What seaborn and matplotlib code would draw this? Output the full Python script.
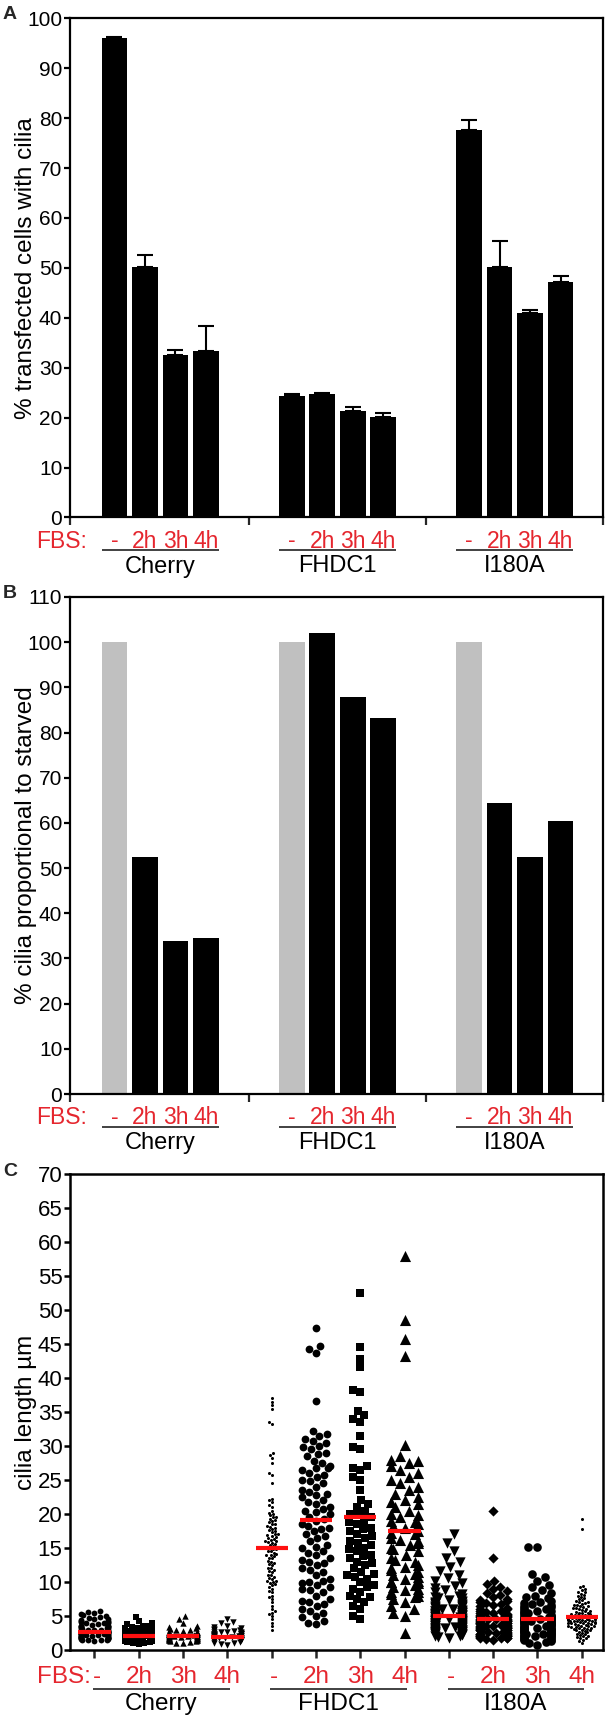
import numpy as np
import pandas as pd
import matplotlib
matplotlib.use("Agg")
import matplotlib.pyplot as plt
import matplotlib.transforms as mtransforms
import seaborn as sns

constructs = ["Cherry", "FHDC1", "I180A"]
fbs = ["-", "2h", "3h", "4h"]

# panel A: % transfected cells with cilia (mean and upper error)
pct_cilia = [96.0, 50.1, 32.6, 33.4,
             24.3, 24.7, 21.3, 20.1,
             77.6, 50.1, 40.9, 47.2]
pct_cilia_err = [0.3, 2.4, 0.9, 5.0,
                 0.4, 0.3, 0.9, 0.8,
                 2.0, 5.3, 0.7, 1.1]

# panel B: % cilia relative to starved
pct_rel = [100, 52.4, 33.9, 34.5,
           100, 102.0, 87.8, 83.2,
           100, 64.3, 52.4, 60.5]

# panel C: cilia lengths (um), one list per condition
len_cherry_0 = [5.8, 5.6, 5.5, 5.3, 5.1, 5.0, 4.8, 4.7, 4.6, 4.5, 4.4, 4.3, 4.2, 4.1, 4.0, 3.9,
                3.9, 3.8, 3.7, 3.6, 3.6, 3.5, 3.4, 3.4, 3.3, 3.2, 3.2, 3.1, 3.0, 3.0, 2.9, 2.9,
                2.8, 2.8, 2.7, 2.7, 2.6, 2.6, 2.5, 2.5, 2.4, 2.4, 2.3, 2.3, 2.2, 2.2, 2.1, 2.1,
                2.0, 2.0, 1.9, 1.9, 1.8, 1.8, 1.7, 1.7, 1.6, 1.6, 1.5, 1.5, 1.4, 1.4, 1.3, 2.6,
                2.2, 1.9, 3.0, 3.5, 4.1, 2.4, 1.7]
len_cherry_2 = [4.9, 4.2, 3.9, 3.8, 3.6, 3.5, 3.4, 3.3, 3.2, 3.1, 3.0, 2.9, 2.8, 2.8, 2.7, 2.6,
                2.6, 2.5, 2.5, 2.4, 2.4, 2.3, 2.3, 2.2, 2.2, 2.1, 2.1, 2.0, 2.0, 1.9, 1.9, 1.8,
                1.8, 1.7, 1.7, 1.6, 1.6, 1.5, 1.5, 1.4, 1.4, 1.3, 1.3, 1.2, 1.1, 1.0, 0.9, 2.2,
                1.8, 1.5, 2.6, 3.0, 1.2, 2.0, 2.4]
len_cherry_3 = [5.0, 4.6, 3.9, 3.6, 3.4, 3.3, 3.1, 3.0, 2.9, 2.8, 2.7, 2.7, 2.6, 2.5, 2.5, 2.4,
                2.4, 2.3, 2.3, 2.2, 2.2, 2.1, 2.1, 2.0, 2.0, 1.9, 1.9, 1.8, 1.8, 1.7, 1.7, 1.6,
                1.6, 1.5, 1.5, 1.4, 1.4, 1.3, 1.2, 1.1, 1.0, 2.3, 1.9, 1.6, 2.6, 1.3, 2.0]
len_cherry_4 = [4.6, 4.1, 3.9, 3.6, 3.4, 3.2, 3.1, 3.0, 2.9, 2.8, 2.7, 2.6, 2.6, 2.5, 2.4, 2.4,
                2.3, 2.3, 2.2, 2.2, 2.1, 2.1, 2.0, 2.0, 1.9, 1.9, 1.8, 1.8, 1.7, 1.7, 1.6, 1.6,
                1.5, 1.5, 1.4, 1.4, 1.3, 1.2, 1.1, 1.0, 0.9, 0.8, 2.0, 1.7, 2.3, 1.4, 2.6]
len_fhdc1_0 = [37.0, 36.5, 36.0, 35.5, 33.5, 33.2, 29.0, 28.7, 28.3, 27.5, 26.0, 25.8, 24.5, 22.2,
               22.0, 21.7, 21.3, 21.0, 20.5, 20.0, 19.8, 19.5, 19.3, 19.0, 18.8, 18.5, 18.2, 18.0,
               17.5, 17.3, 17.0, 16.8, 16.5, 16.3, 16.0, 15.8, 15.5, 15.3, 15.0, 14.8, 14.5, 14.3,
               14.0, 13.5, 13.0, 12.5, 12.0, 11.5, 11.0, 10.8, 10.5, 10.2, 10.0, 9.8, 9.5, 9.3,
               9.0, 8.5, 8.0, 7.5, 7.0, 6.5, 6.0, 5.7, 5.3, 5.0, 4.5, 4.0, 3.5, 3.0, 15.2, 16.2,
               17.8, 13.8, 12.8, 11.8, 9.7, 8.7, 7.8, 5.5, 19.6, 18.6, 17.6, 16.6, 15.6, 14.6,
               13.6, 12.6, 11.6, 10.6, 19.1, 18.1, 17.1, 16.1, 15.1, 14.1, 13.1, 12.1, 11.1,
               10.1, 20.2, 16.9, 15.9, 14.9, 13.9]
len_fhdc1_2 = [47.3, 44.7, 44.2, 43.7, 36.6, 32.2, 31.5, 31.0, 30.5, 30.0, 29.5, 29.0, 28.5, 27.5,
               27.0, 26.8, 26.5, 26.0, 25.5, 25.0, 24.5, 24.0, 23.5, 23.0, 22.5, 22.0, 21.5, 21.0,
               20.5, 20.0, 19.5, 19.0, 18.5, 18.0, 17.5, 17.0, 16.5, 16.0, 15.5, 15.0, 14.5, 14.0,
               13.5, 13.0, 12.5, 12.0, 11.5, 11.0, 10.5, 10.0, 9.5, 9.0, 8.5, 8.0, 7.5, 7.0, 6.5,
               6.0, 5.5, 5.0, 4.2, 3.8, 26.7, 24.8, 23.3, 21.8, 20.3, 19.3, 18.3, 16.8, 15.2, 14.2,
               13.2, 11.8, 10.2, 9.8, 8.8, 7.2, 31.8, 30.8, 29.8, 28.8, 27.8, 25.8, 22.8, 20.8,
               17.8, 12.8, 9.2, 6.8, 5.8, 4.8, 4.0]
len_fhdc1_3 = [52.5, 44.5, 42.8, 41.6, 38.3, 38.0, 35.2, 34.5, 34.0, 33.5, 31.5, 29.8, 29.5, 27.0,
               26.8, 26.5, 25.5, 25.0, 23.5, 22.0, 21.5, 21.0, 20.5, 20.0, 19.5, 19.0, 18.5, 18.0,
               17.5, 17.0, 16.5, 16.0, 15.5, 15.0, 14.5, 14.0, 13.5, 13.0, 12.5, 12.0, 11.5, 11.0,
               10.5, 10.0, 9.5, 9.0, 8.5, 8.0, 7.5, 7.0, 6.5, 6.0, 5.0, 4.5, 19.8, 18.8, 17.8,
               16.8, 15.8, 14.8, 13.8, 12.8, 11.2, 10.8, 9.2, 7.8]
len_fhdc1_4 = [58.0, 48.5, 45.8, 43.2, 30.2, 28.5, 28.0, 27.5, 27.0, 26.0, 25.5, 25.0, 24.5, 24.0,
               23.5, 22.5, 22.0, 21.5, 21.0, 20.5, 20.0, 19.5, 19.0, 18.5, 18.0, 17.5, 17.0, 16.5,
               16.0, 15.5, 15.0, 14.5, 14.0, 13.5, 13.0, 12.5, 12.0, 11.5, 11.0, 10.5, 10.0, 9.5,
               9.0, 8.5, 8.0, 7.5, 7.0, 6.5, 5.5, 5.0, 2.5, 18.2, 17.2, 16.2, 14.8, 13.2, 11.2,
               10.8, 10.2, 9.2, 8.2, 27.8, 26.5, 23.0, 21.8, 19.8, 18.8, 15.8, 12.2, 11.8, 10.0,
               9.8, 8.8, 8.5, 7.8, 6.0]
len_i180a_0 = [17.0, 15.8, 14.6, 13.6, 12.9, 12.2, 11.6, 11.0, 10.6, 10.2, 9.8, 9.4, 9.1, 8.8,
               8.5, 8.3, 8.0, 7.8, 7.6, 7.4, 7.2, 7.0, 6.9, 6.8, 6.6, 6.5, 6.4, 6.3, 6.2, 6.1,
               6.0, 5.9, 5.8, 5.7, 5.6, 5.5, 5.5, 5.4, 5.3, 5.2, 5.2, 5.1, 5.0, 5.0, 4.9, 4.8,
               4.8, 4.7, 4.6, 4.6, 4.5, 4.4, 4.4, 4.3, 4.2, 4.2, 4.1, 4.0, 4.0, 3.9, 3.8, 3.8,
               3.7, 3.6, 3.6, 3.5, 3.4, 3.4, 3.3, 3.2, 3.2, 3.1, 3.0, 3.0, 2.9, 2.8, 2.8, 2.7,
               2.6, 2.6, 2.5, 2.4, 2.3, 2.2, 2.1, 2.0, 1.9, 1.8, 6.7, 6.3, 5.8, 5.3, 4.7, 4.3,
               3.7, 3.3, 2.7, 2.4, 7.1, 7.7]
len_i180a_2 = [20.5, 13.5, 10.1, 9.7, 9.3, 9.0, 8.7, 8.4, 8.1, 7.8, 7.5, 7.2, 7.0, 6.8, 6.6, 6.4,
               6.2, 6.0, 5.8, 5.6, 5.5, 5.4, 5.2, 5.1, 5.0, 4.9, 4.8, 4.7, 4.6, 4.5, 4.4, 4.3,
               4.2, 4.1, 4.0, 3.9, 3.8, 3.7, 3.6, 3.5, 3.4, 3.3, 3.2, 3.1, 3.0, 2.9, 2.8, 2.7,
               2.6, 2.5, 2.4, 2.3, 2.2, 2.1, 2.0, 1.9, 1.8, 1.7, 1.6, 1.5, 4.5, 4.0, 3.5, 3.0,
               2.5, 2.0, 4.2, 3.7, 3.2, 2.7, 2.2, 1.8, 5.7, 5.3, 4.9, 4.4, 3.9, 3.4, 2.9, 2.4,
               6.1, 6.9, 7.4, 2.1, 1.7, 3.6, 4.6, 5.0]
len_i180a_3 = [15.2, 15.1, 11.2, 10.8, 10.2, 9.6, 9.2, 8.8, 8.4, 8.0, 7.6, 7.2, 7.0, 6.8, 6.6,
               6.4, 6.2, 6.0, 5.8, 5.6, 5.4, 5.2, 5.0, 4.9, 4.8, 4.7, 4.6, 4.5, 4.4, 4.3, 4.2,
               4.1, 4.0, 3.9, 3.8, 3.7, 3.6, 3.5, 3.4, 3.3, 3.2, 3.1, 3.0, 2.9, 2.8, 2.7, 2.6,
               2.5, 2.4, 2.3, 2.2, 2.1, 2.0, 1.9, 1.8, 1.6, 1.4, 1.2, 1.0, 0.8, 5.9, 5.5, 5.1,
               4.6, 4.2, 3.8, 3.3, 2.9, 2.5, 2.1, 1.7, 1.3, 6.3, 5.7, 4.4, 3.6, 2.7, 2.2, 4.8,
               3.9, 3.1, 2.4, 1.5, 6.9, 7.8]
len_i180a_4 = [19.3, 17.8, 9.4, 9.2, 9.0, 8.8, 8.6, 8.5, 8.3, 8.1, 8.0, 7.8, 7.6, 7.5, 7.3, 7.2,
               7.0, 6.9, 6.8, 6.6, 6.5, 6.4, 6.3, 6.2, 6.1, 6.0, 5.9, 5.8, 5.7, 5.6, 5.5, 5.4,
               5.3, 5.2, 5.1, 5.0, 5.0, 4.9, 4.8, 4.8, 4.7, 4.6, 4.6, 4.5, 4.4, 4.4, 4.3, 4.2,
               4.2, 4.1, 4.0, 4.0, 3.9, 3.8, 3.8, 3.7, 3.6, 3.6, 3.5, 3.4, 3.4, 3.3, 3.2, 3.1,
               3.0, 2.9, 2.8, 2.7, 2.6, 2.5, 2.4, 2.3, 2.2, 2.1, 2.0, 1.9, 1.8, 1.7, 1.5, 1.3,
               1.1, 4.1, 4.3, 4.5, 4.7, 3.9, 3.7, 3.5, 5.5, 5.3, 6.2, 6.6, 7.1, 2.9, 3.1, 3.3,
               4.0, 4.2, 4.4, 4.6, 4.8, 5.0, 5.2]
len_means = [2.7, 2.1, 2.0, 1.9,
             15.0, 19.1, 19.6, 17.5,
             5.0, 4.6, 4.6, 4.8]

RED = "#e5262e"
W, H = 608, 1719

sns.set_style("ticks")
plt.rcParams["font.family"] = ["Liberation Sans", "DejaVu Sans"]
plt.rcParams["ytick.labelsize"] = 15
plt.rcParams["xtick.labelsize"] = 15

fig = plt.figure(figsize=(W / 100, H / 100), dpi=100)


def add_axes_px(left, top, right, bottom):
    return fig.add_axes([left / W, 1 - bottom / H, (right - left) / W, (bottom - top) / H])


def style_axes(ax, lw, ysize):
    for s in ax.spines.values():
        s.set_visible(True)
        s.set_linewidth(lw)
        s.set_color("black")
    ax.tick_params(axis="y", direction="out", length=4, width=lw, labelsize=ysize,
                   pad=1.5, colors="black")
    ax.tick_params(axis="x", direction="out", length=5.5, width=lw, labelbottom=False)
    ax.set_xlabel("")
    ax.grid(False)


def text_below(ax, x, dy_px, s, ax_h, **kw):
    tr = mtransforms.blended_transform_factory(ax.transData, ax.transAxes)
    ax.text(x, -dy_px / ax_h, s, transform=tr, va="baseline", clip_on=False, **kw)


def line_below(ax, x0, x1, dy_px, ax_h):
    tr = mtransforms.blended_transform_factory(ax.transData, ax.transAxes)
    ax.plot([x0, x1], [-dy_px / ax_h] * 2, transform=tr, clip_on=False,
            color="#333333", lw=1.3, solid_capstyle="butt")


# ---- panels A and B: grouped bars ----
step = 5.81
bar_w = 0.84
xpos = [g * step + i for g in range(len(constructs)) for i in range(len(fbs))]
starved = [f == "-" for c in constructs for f in fbs]
bar_df = pd.DataFrame({"x": xpos, "pct": pct_cilia, "err": pct_cilia_err,
                       "rel": pct_rel, "starved": starved})

axA = add_axes_px(70, 18.3, 603, 517.5)
axB = add_axes_px(70, 597, 603, 1094)

sns.barplot(data=bar_df, x="x", y="pct", native_scale=True, color="black",
            width=bar_w, errorbar=None, linewidth=0, ax=axA)
axA.errorbar(bar_df["x"], bar_df["pct"], yerr=[np.zeros(len(bar_df)), bar_df["err"]],
             fmt="none", ecolor="black", elinewidth=1.5, capsize=5.5, capthick=1.5)

sns.barplot(data=bar_df, x="x", y="rel", hue="starved", native_scale=True,
            palette={True: "#c0c0c0", False: "black"}, dodge=False, legend=False,
            width=bar_w, errorbar=None, linewidth=0, ax=axB)

xlim_ab = (-1.456, 2 * step + 3 + 1.39)
bounds = [(3 + step) / 2, step + (3 + step) / 2]
for ax, top, ylab, hpx in [(axA, 100, "% transfected cells with cilia", 499.2),
                           (axB, 110, "% cilia proportional to starved", 497)]:
    style_axes(ax, 1.6, 15)
    ax.set_xlim(*xlim_ab)
    ax.set_ylim(0, top)
    ax.set_yticks(np.arange(0, top + 1, 10))
    ax.set_xticks([xlim_ab[0]] + bounds + [xlim_ab[1]])
    ax.set_ylabel(ylab, fontsize=17.5, color="black")
    ax.yaxis.set_label_coords(-33 / 533, 0.5)
    text_below(ax, -0.89, 30, "FBS:", hpx, color=RED, fontsize=16.5, ha="right")
    for g, name in enumerate(constructs):
        x0 = g * step
        for i, f in enumerate(fbs):
            text_below(ax, x0 + i, 30, f, hpx, color=RED, fontsize=16.5, ha="center")
        line_below(ax, x0 - bar_w / 2, x0 + 3 + bar_w / 2, 33, hpx)
        text_below(ax, x0 + 1.5, 55, name, hpx, color="black", fontsize=17, ha="center")

# ---- panel C: swarm of cilia lengths ----
all_lengths = [len_cherry_0, len_cherry_2, len_cherry_3, len_cherry_4,
               len_fhdc1_0, len_fhdc1_2, len_fhdc1_3, len_fhdc1_4,
               len_i180a_0, len_i180a_2, len_i180a_3, len_i180a_4]
cond_labels = [f"{c} {f}" for c in constructs for f in fbs]
markers = ["o", "s", "^", "v", "o", "o", "s", "^", "v", "D", "o", "o"]
sizes = [4.2, 4.0, 4.6, 4.6, 2.2, 5.6, 5.5, 8.0, 7.4, 5.2, 6.2, 2.2]

# category pitch on the numeric axis; swarms take 0.8 units, i.e. ~0.62 of a slot
pitch = 1.3
xs = pitch * np.arange(len(cond_labels))

long_df = pd.DataFrame({
    "cond": [lab for lab, vals in zip(cond_labels, all_lengths) for _ in vals],
    "x": [x for x, vals in zip(xs, all_lengths) for _ in vals],
    "length": [v for vals in all_lengths for v in vals],
})

axC = add_axes_px(70, 1174, 603, 1650)
for lab, mk, sz in zip(cond_labels, markers, sizes):
    sns.swarmplot(data=long_df[long_df["cond"] == lab], x="x", y="length",
                  native_scale=True, marker=mk, size=sz, color="black",
                  linewidth=0, warn_thresh=1.0, ax=axC)

axC.hlines(len_means, xs - 0.365 * pitch, xs + 0.365 * pitch, color="#ff1010", lw=3,
           zorder=10)

style_axes(axC, 1.8, 16)
axC.set_xlim(-0.553 * pitch, 11.48 * pitch)
axC.set_ylim(0, 70)
axC.set_yticks(np.arange(0, 71, 5))
axC.set_xticks(xs)
axC.set_ylabel("cilia length µm", fontsize=17.5, color="black")
axC.yaxis.set_label_coords(-33 / 533, 0.5)
hC = 476
text_below(axC, -0.08 * pitch, 33, "FBS:", hC, color=RED, fontsize=17.5, ha="right")
for g, name in enumerate(constructs):
    for i, f in enumerate(fbs):
        k = g * 4 + i
        text_below(axC, (k + (0.05 if f == "-" else 0)) * pitch, 33, f, hC, color=RED,
                   fontsize=17.5, ha="center")
    line_below(axC, (g * 4 - 0.03) * pitch, (g * 4 + 3.05) * pitch, 39, hC)
    text_below(axC, (g * 4 + 1.5) * pitch, 60, name, hC, color="black", fontsize=17.5,
               ha="center")

# panel letters
for letter, base in [("A", 19.3), ("B", 598), ("C", 1176)]:
    fig.text(3 / W, 1 - base / H, letter, fontsize=14, fontweight="bold",
             va="baseline", ha="left")

fig.savefig("out.png", dpi=100)
